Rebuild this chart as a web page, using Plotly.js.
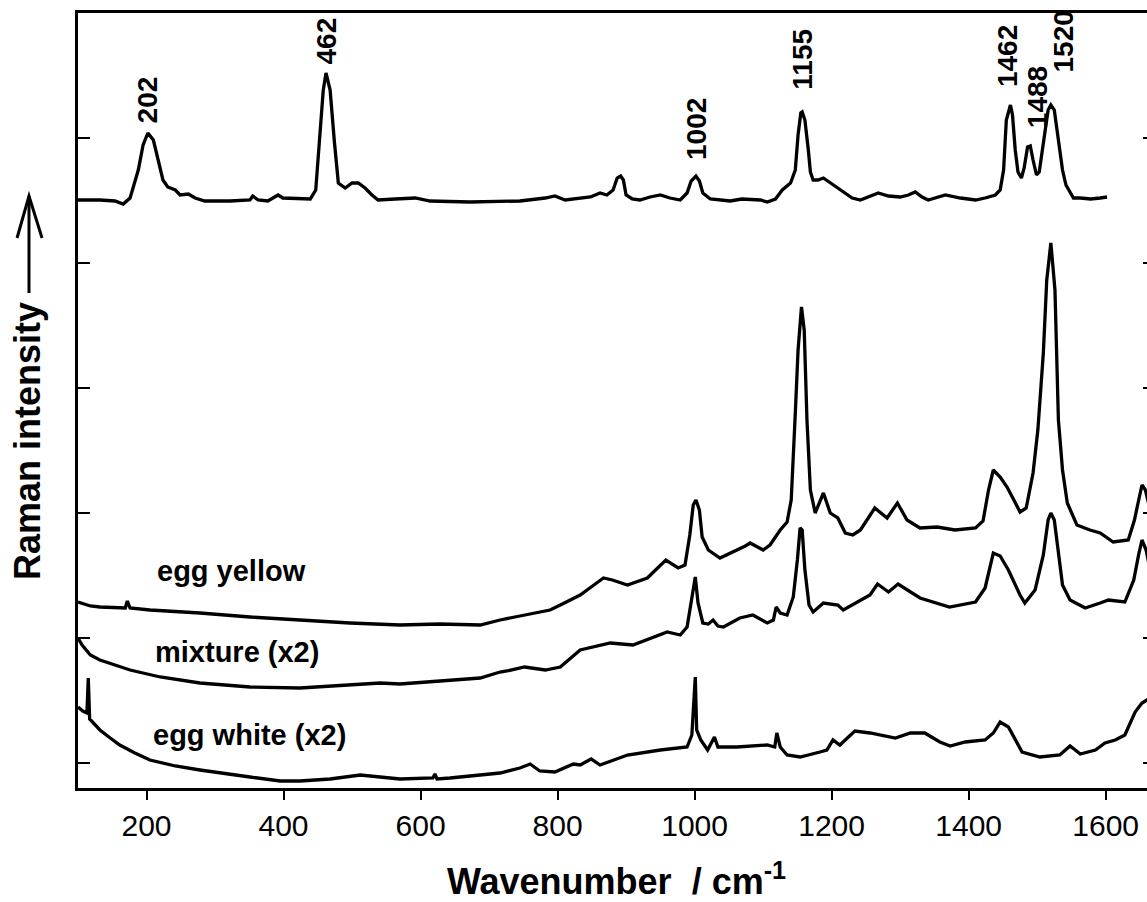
<!DOCTYPE html>
<html><head><meta charset="utf-8">
<script src="https://cdn.plot.ly/plotly-3.0.1.min.js"></script>
<style>html,body{margin:0;padding:0;overflow:hidden;background:#fff}#chart{width:1160px;height:902px}</style>
</head><body><div id="chart"></div>
<script>
// Raman spectra (intensity in arbitrary units, spectra offset vertically)
const refWn = [100,132,154,166,176,188,195,202,210,217,224,231,242,249,261,271,285,322,351,355,363,377,392,399,424,439,447,453,458,462,468,474,480,490,500,509,519,529,538,563,592,614,672,745,782,796,811,848,862,872,881,887,892,896,900,909,920,935,950,964,979,989,995,1002,1007,1012,1023,1052,1069,1096,1106,1118,1128,1140,1147,1151,1155,1157,1161,1166,1169,1173,1180,1188,1198,1213,1230,1242,1253,1268,1283,1300,1312,1322,1332,1341,1366,1388,1410,1424,1439,1446,1451,1455,1461,1464,1468,1472,1477,1481,1486,1490,1494,1499,1503,1510,1516,1520,1525,1531,1537,1542,1548,1553,1563,1578,1592,1602];
const refInt = [563,563,562,559,565,593,618,630,623,603,583,576,573,568,569,565,562,562,563,567,563,562,568,565,564,564,573,623,673,690,673,623,580,575,580,580,575,568,563,564,565,562,561,562,565,567,563,566,570,568,573,585,587,583,568,564,563,566,568,565,563,570,582,587,582,570,564,562,564,563,561,564,573,580,593,628,650,651,643,613,591,583,583,585,580,573,565,563,566,570,567,566,568,571,566,563,568,565,563,565,568,573,593,643,658,648,613,591,585,595,616,617,603,588,591,623,653,658,653,623,593,578,570,565,565,564,565,566];

const yolkWn = [100,118,132,169,172,176,205,278,351,424,497,570,628,687,716,745,789,804,833,855,867,880,902,931,947,958,976,986,993,998,1002,1007,1011,1020,1037,1062,1074,1081,1100,1110,1125,1135,1141,1147,1151,1156,1160,1164,1169,1176,1188,1198,1209,1220,1231,1242,1263,1281,1296,1310,1329,1354,1380,1410,1421,1429,1436,1446,1456,1466,1475,1484,1494,1501,1509,1514,1520,1526,1531,1537,1544,1558,1577,1592,1611,1633,1642,1646,1653,1658,1665];
const yolkInt = [161,157,156,155,162,155,153,150,146,143,140,138,139,138,143,147,153,158,168,179,185,183,178,185,196,203,195,198,228,258,263,253,226,213,205,213,217,220,213,218,233,241,263,350,413,456,433,343,273,250,270,250,245,230,228,233,255,245,260,243,235,236,233,235,242,273,293,286,276,263,251,255,290,333,410,483,520,473,343,293,260,238,233,230,221,223,243,256,278,273,253];

const mixWn = [100,106,118,132,176,220,278,351,424,497,541,570,628,687,716,726,752,782,804,833,877,910,960,979,989,996,1001,1005,1012,1020,1027,1034,1042,1066,1085,1106,1115,1119,1125,1135,1144,1150,1154,1157,1161,1167,1173,1188,1209,1217,1256,1267,1283,1297,1329,1372,1410,1424,1436,1446,1458,1475,1482,1497,1509,1516,1520,1525,1531,1537,1548,1570,1592,1604,1628,1641,1648,1653,1659,1665];
const mixInt = [125,118,108,103,93,86,80,76,75,78,80,79,82,85,91,92,96,93,96,113,120,118,131,128,136,166,186,160,140,139,143,137,136,145,148,140,143,156,150,148,166,203,235,233,193,158,151,160,158,153,168,179,171,179,165,156,161,175,210,207,193,168,160,173,208,243,250,243,208,178,163,155,160,163,161,183,208,223,213,193];

const whiteWn = [100,107,113,115,117,125,132,147,161,183,205,242,278,351,395,424,468,512,541,570,618,621,624,643,716,745,760,774,796,811,823,833,849,862,902,950,989,996,1001,1003,1009,1019,1029,1034,1062,1106,1117,1120,1125,1135,1154,1183,1193,1202,1212,1223,1234,1256,1293,1315,1336,1358,1373,1395,1424,1436,1446,1458,1468,1478,1504,1533,1548,1563,1585,1599,1614,1628,1643,1653,1665];
const whiteInt = [56,52,50,85,44,38,33,25,18,10,3,-3,-7,-14,-18,-18,-16,-12,-14,-16,-15,-11,-16,-15,-10,-5,-1,-8,-9,-5,-1,-2,4,-2,8,13,16,28,86,33,23,13,26,16,16,18,16,30,16,8,6,11,13,23,18,25,32,30,25,30,30,21,17,21,23,30,41,36,23,11,6,8,17,9,13,20,23,28,51,60,65];

const xTicks = [200,400,600,800,1000,1200,1400,1600];
const peakLabels = ['202','462','1002','1155','1462','1488','1520'];
const seriesLabels = ['egg yellow','mixture (x2)','egg white (x2)'];

// label placement (layout only)
const peakLabelX = [202,462,1002,1157,1456,1500,1537];
const peakLabelY = [638,696,601,671,674,633,688];
const seriesLabelX = [212,209,207];
const seriesLabelY = [192,111,28];

const FONT = '"Liberation Sans", Arial, Helvetica, sans-serif';
const line = {color:'#000', width:3.3};
const traces = [
  {x:refWn, y:refInt, name:'reference', mode:'lines', line:line},
  {x:yolkWn, y:yolkInt, name:'egg yellow', mode:'lines', line:line},
  {x:mixWn, y:mixInt, name:'mixture (x2)', mode:'lines', line:line},
  {x:whiteWn, y:whiteInt, name:'egg white (x2)', mode:'lines', line:line}
];

const annotations = [];
peakLabels.forEach((t,i)=>annotations.push({x:peakLabelX[i], y:peakLabelY[i], xref:'x', yref:'y', text:t, textangle:-90, showarrow:false, xanchor:'center', yanchor:'bottom', font:{family:FONT, size:28, weight:'bold', color:'#000'}}));
seriesLabels.forEach((t,i)=>annotations.push({x:seriesLabelX[i], y:seriesLabelY[i], xref:'x', yref:'y', text:t, showarrow:false, xanchor:'left', yanchor:'middle', font:{family:FONT, size:29, weight:'bold', color:'#000'}}));
annotations.push({xref:'paper', yref:'paper', x:-0.0474, y:0.4477, text:'Raman intensity', textangle:-90, showarrow:false, xanchor:'center', yanchor:'middle', font:{family:FONT, size:36, weight:'bold', color:'#000'}});

const layout = {
  width:1160, height:902,
  margin:{l:78, r:5, t:13, b:114},
  paper_bgcolor:'#fff', plot_bgcolor:'#fff',
  showlegend:false,
  font:{family:FONT, color:'#000'},
  xaxis:{range:[100,1672], tickmode:'array', tickvals:xTicks, ticks:'outside', ticklen:9, tickwidth:2, tickcolor:'#000',
    showline:true, linecolor:'#000', linewidth:3, mirror:true, showgrid:false, zeroline:false,
    tickfont:{family:FONT, size:30, color:'#000'},
    title:{text:'Wavenumber\u00a0 / cm<sup>-1</sup>', font:{family:FONT, size:36, weight:'bold', color:'#000'}, standoff:32}},
  yaxis:{range:[-25,750], tick0:0, dtick:125, ticks:'inside', ticklen:12, tickwidth:2, tickcolor:'#000', showticklabels:false,
    showline:true, linecolor:'#000', linewidth:3, mirror:'ticks', showgrid:false, zeroline:false},
  annotations:annotations,
  shapes:[
    {type:'path', xref:'paper', yref:'paper', path:'M -0.0455,0.6387 L -0.0455,0.7639', line:{color:'#000', width:3}},
    {type:'path', xref:'paper', yref:'paper', path:'M -0.0566,0.7097 L -0.0455,0.7639 L -0.0334,0.7097', line:{color:'#000', width:3}}
  ]
};
Plotly.newPlot('chart', traces, layout, {displayModeBar:false, staticPlot:true});
</script>
</body></html>
